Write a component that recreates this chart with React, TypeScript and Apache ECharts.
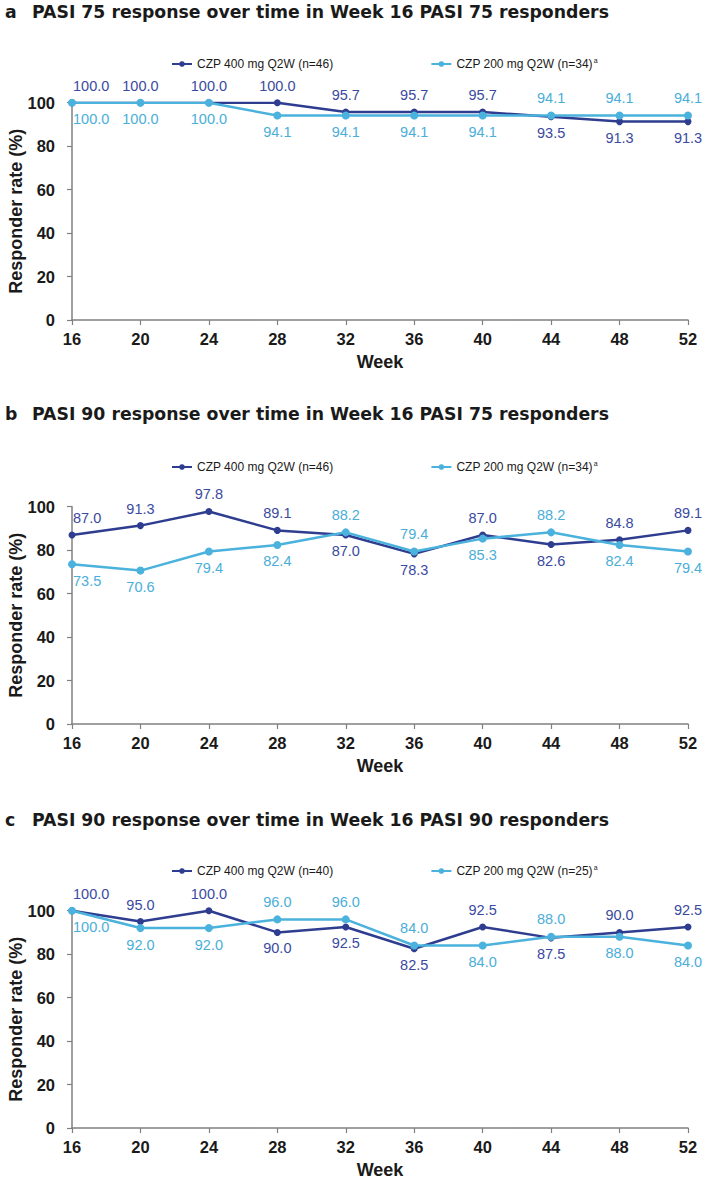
import React, { useEffect, useRef } from "react";
import * as echarts from "echarts";

const weeks = [16, 20, 24, 28, 32, 36, 40, 44, 48, 52];
const letters = ["a", "b", "c"];
const titles = [
  "PASI 75 response over time in Week 16 PASI 75 responders",
  "PASI 90 response over time in Week 16 PASI 75 responders",
  "PASI 90 response over time in Week 16 PASI 90 responders",
];
const names400 = ["CZP 400 mg Q2W (n=46)", "CZP 400 mg Q2W (n=46)", "CZP 400 mg Q2W (n=40)"];
const names200 = ["CZP 200 mg Q2W (n=34)", "CZP 200 mg Q2W (n=34)", "CZP 200 mg Q2W (n=25)"];

const a400 = [100.0, 100.0, 100.0, 100.0, 95.7, 95.7, 95.7, 93.5, 91.3, 91.3];
const a200 = [100.0, 100.0, 100.0, 94.1, 94.1, 94.1, 94.1, 94.1, 94.1, 94.1];
const b400 = [87.0, 91.3, 97.8, 89.1, 87.0, 78.3, 87.0, 82.6, 84.8, 89.1];
const b200 = [73.5, 70.6, 79.4, 82.4, 88.2, 79.4, 85.3, 88.2, 82.4, 79.4];
const c400 = [100.0, 95.0, 100.0, 90.0, 92.5, 82.5, 92.5, 87.5, 90.0, 92.5];
const c200 = [100.0, 92.0, 92.0, 96.0, 96.0, 84.0, 84.0, 88.0, 88.0, 84.0];

// which side of the point each value label sits on
const a400Side = ["top", "top", "top", "top", "top", "top", "top", "bottom", "bottom", "bottom"];
const a200Side = ["bottom", "bottom", "bottom", "bottom", "bottom", "bottom", "bottom", "top", "top", "top"];
const b400Side = ["top", "top", "top", "top", "bottom", "bottom", "top", "bottom", "top", "top"];
const b200Side = ["bottom", "bottom", "bottom", "bottom", "top", "top", "bottom", "top", "bottom", "bottom"];
const c400Side = ["top", "top", "top", "bottom", "bottom", "bottom", "top", "bottom", "top", "top"];
const c200Side = ["bottom", "bottom", "bottom", "top", "top", "top", "bottom", "top", "bottom", "bottom"];

const yMin = 0;
const yMax = 100;
const yStep = 20;
const xMin = 16;
const xMax = 52;
const xStep = 4;

const DARK = "#2e3d8f";
const LIGHT = "#4ab2dc";
const DARK_LABEL = "#3a4aa0";
const LIGHT_LABEL = "#4aaed8";
const AXIS = "#808080";
const TXT = "#1a1a1a";
const ARIAL = "'Liberation Sans', Arial, sans-serif";
const TICKFONT = "'Liberation Sans Narrow', 'Arial Narrow', 'Liberation Sans', sans-serif";
const TITLEFONT = "'DejaVu Sans', Verdana, sans-serif";

const GRID_TOPS = [102.7, 506.7, 910.7];
const TITLE_CENTERS = [13, 415, 821];
const LEGEND_CENTERS = [64, 467, 871];

function makeSeries(
  name: string,
  values: number[],
  sides: string[],
  idx: number,
  color: string,
  labelColor: string,
  lineWidth: number,
  symbolSize: number
) {
  return {
    type: "line",
    name,
    xAxisIndex: idx,
    yAxisIndex: idx,
    symbol: "circle",
    symbolSize,
    lineStyle: { color, width: lineWidth },
    itemStyle: { color },
    z: color === LIGHT ? 3 : 2,
    data: values.map((v, i) => ({
      value: [weeks[i], v],
      label: {
        show: true,
        position: sides[i],
        distance: sides[i] === "top" ? 6 : 5,
        align: i === 0 ? "left" : "center",
        offset: i === 0 ? [1, 0] : [0, 0],
        formatter: () => v.toFixed(1),
        color: labelColor,
        fontSize: 14.5,
        fontFamily: ARIAL,
      },
    })),
  };
}

export default function App() {
  const ref = useRef<HTMLDivElement>(null);
  useEffect(() => {
    document.body.style.margin = "0";
    const chart = echarts.init(ref.current!, null, { renderer: "svg" });
    const grids: any[] = [];
    const xAxes: any[] = [];
    const yAxes: any[] = [];
    const titleOpts: any[] = [];
    const legends: any[] = [];
    for (let i = 0; i < 3; i++) {
      grids.push({
        left: 72,
        width: 616,
        top: GRID_TOPS[i],
        height: 217.3,
        containLabel: false,
        outerBoundsMode: "none",
      });
      xAxes.push({
        type: "value",
        gridIndex: i,
        min: xMin,
        max: xMax,
        interval: xStep,
        name: "Week",
        nameLocation: "middle",
        nameGap: 33,
        nameMoveOverlap: false,
        nameTextStyle: { fontFamily: ARIAL, fontWeight: "bold", fontSize: 18, color: TXT },
        axisLine: { show: true, lineStyle: { color: AXIS, width: 1.5 } },
        axisTick: { show: true, length: 5, lineStyle: { color: AXIS, width: 1.2 } },
        axisLabel: { margin: 10, fontFamily: TICKFONT, fontWeight: "bold", fontSize: 16.5, color: TXT },
        splitLine: { show: false },
      });
      yAxes.push({
        type: "value",
        gridIndex: i,
        min: yMin,
        max: yMax,
        interval: yStep,
        name: "Responder rate (%)",
        nameLocation: "middle",
        nameGap: 47,
        nameMoveOverlap: false,
        nameTextStyle: { fontFamily: ARIAL, fontWeight: "bold", fontSize: 18, color: TXT },
        axisLine: { show: true, lineStyle: { color: AXIS, width: 1.5 } },
        axisTick: { show: true, length: 5, lineStyle: { color: AXIS, width: 1.2 } },
        axisLabel: { margin: 17, fontFamily: TICKFONT, fontWeight: "bold", fontSize: 16.5, color: TXT },
        splitLine: { show: false },
      });
      titleOpts.push({
        text: `{l|${letters[i]}}${titles[i]}`,
        left: 5,
        top: TITLE_CENTERS[i] - 10,
        padding: 0,
        textStyle: {
          fontFamily: TITLEFONT,
          fontWeight: "bold",
          fontSize: 17.3,
          color: TXT,
          rich: {
            l: { width: 27, fontFamily: TITLEFONT, fontWeight: "bold", fontSize: 17.3, color: TXT },
          },
        },
      });
      legends.push({
        data: [names400[i], names200[i]],
        left: 171,
        top: LEGEND_CENTERS[i] - 7,
        padding: 0,
        itemWidth: 20,
        itemHeight: 7,
        itemGap: 97,
        formatter: (name: string) => (name.startsWith("CZP 200") ? `{t|${name}}{s|a}` : `{t|${name}}`),
        textStyle: {
          fontFamily: ARIAL,
          fontSize: 12,
          color: TXT,
          rich: {
            t: { fontFamily: ARIAL, fontSize: 12, color: TXT, lineHeight: 14 },
            s: { fontFamily: ARIAL, fontSize: 7, color: TXT, verticalAlign: "top", lineHeight: 14, padding: [0, 0, 4, 1] },
          },
        },
      });
    }
    const allData = [
      [a400, a200, a400Side, a200Side],
      [b400, b200, b400Side, b200Side],
      [c400, c200, c400Side, c200Side],
    ] as any[];
    const series: any[] = [];
    allData.forEach((d, i) => {
      series.push(makeSeries(names400[i], d[0], d[2], i, DARK, DARK_LABEL, 2.5, 7));
      series.push(makeSeries(names200[i], d[1], d[3], i, LIGHT, LIGHT_LABEL, 2.5, 8));
    });
    chart.setOption({
      animation: false,
      backgroundColor: "#ffffff",
      title: titleOpts,
      legend: legends,
      grid: grids,
      xAxis: xAxes,
      yAxis: yAxes,
      series,
    });
    return () => chart.dispose();
  }, []);
  return <div ref={ref} style={{ width: 705, height: 1180 }} />;
}
